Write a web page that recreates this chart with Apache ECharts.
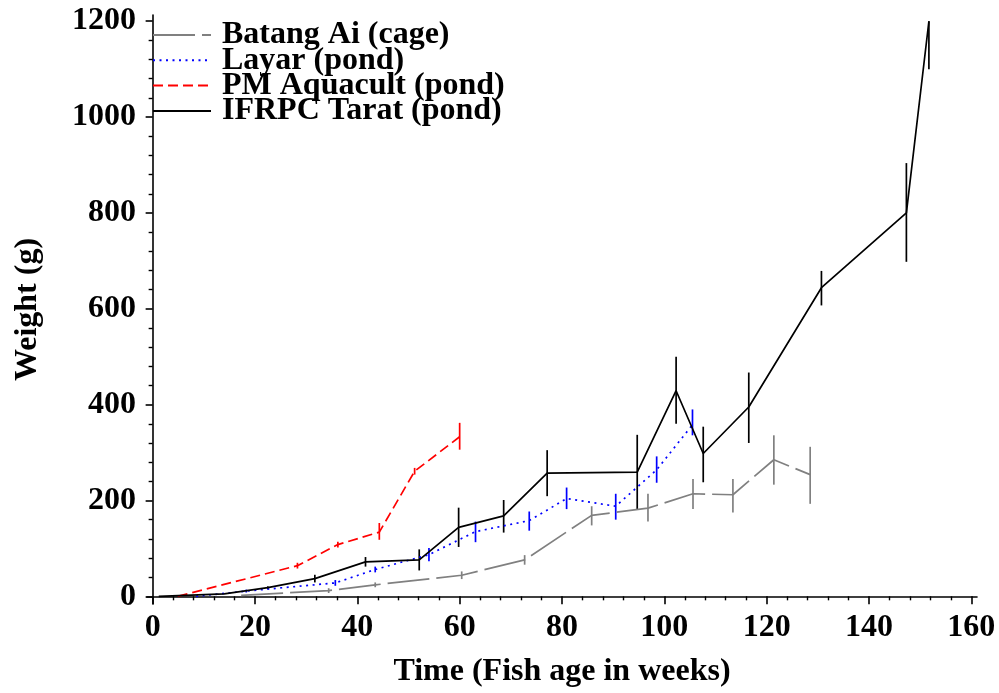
<!DOCTYPE html>
<html>
<head>
<meta charset="utf-8">
<script src="https://cdn.jsdelivr.net/npm/echarts@6/dist/echarts.min.js"></script>
<style>html,body{margin:0;padding:0;background:#fff}#c{width:999px;height:693px}</style>
</head>
<body>
<div id="c"></div>
<script>
// ---- Data ----
const seriesNames = ['Batang Ai (cage)', 'Layar (pond)', 'PM Aquacult (pond)', 'IFRPC Tarat (pond)'];

const batangT  = [17.3, 34.4, 43.5, 60.4, 72.7, 85.8, 96.8, 105.6, 113.4, 121.4, 128.5];
const batangW  = [2, 12, 24, 44, 76, 169, 184, 214, 212, 285, 254];
const batangLo = [2, 7, 19, 36, 66, 148, 156, 182, 175, 233, 193];
const batangHi = [2, 17, 29, 52, 86, 188, 214, 245, 245, 336, 312];

const layarT  = [8.5, 18.3, 35.7, 43.5, 54, 63.1, 73.6, 80.9, 90.5, 98.5, 105.5];
const layarW  = [0, 11, 28, 56, 87, 135, 158, 204, 188, 264, 358];
const layarLo = [0, 8, 22, 50, 73, 113, 137, 182, 160, 237, 336];
const layarHi = [0, 14, 34, 62, 101, 156, 177, 227, 214, 292, 390];

const pmT  = [4.9, 28.3, 36.2, 44.3, 51.2, 60];
const pmW  = [0, 64, 108, 134, 261, 333];
const pmLo = [0, 58, 102, 118, 254, 306];
const pmHi = [0, 70, 114, 153, 268, 362];

const ifrpcT  = [1.2, 14, 22.5, 31.7, 41.6, 52.1, 59.8, 68.6, 77.1, 94.7, 102.3, 107.6, 116.5, 130.7, 147.3, 151.7];
const ifrpcW  = [0, 5, 18, 37, 72, 76, 144, 168, 257, 259, 429, 298, 395, 644, 800, 1200];
const ifrpcLo = [0, 5, 15, 29, 62, 54, 103, 133, 209, 181, 360, 238, 320, 607, 698, 1100];
const ifrpcHi = [0, 5, 21, 45, 82, 98, 185, 201, 305, 337, 500, 354, 467, 679, 904, 1200];

const xTickLabels = [0, 20, 40, 60, 80, 100, 120, 140, 160];
const yTickLabels = [0, 200, 400, 600, 800, 1000, 1200];
const xMinorTicks = [4, 8, 12, 16, 24, 28, 32, 36, 44, 48, 52, 56, 64, 68, 72, 76, 84, 88, 92, 96, 104, 108, 112, 116, 124, 128, 132, 136, 144, 148, 152, 156];
const yMinorTicks = [40, 80, 120, 160, 240, 280, 320, 360, 440, 480, 520, 560, 640, 680, 720, 760, 840, 880, 920, 960, 1040, 1080, 1120, 1160];

// ---- Styling ----
const FONT = 'Liberation Serif';
const colors = ['#808080', '#0000ff', '#ff0000', '#000000'];
const dashes = [[42, 7], [2, 4.5], [10, 5], 'solid'];

const groups = [
  [batangT, batangW, batangLo, batangHi],
  [layarT, layarW, layarLo, layarHi],
  [pmT, pmW, pmLo, pmHi],
  [ifrpcT, ifrpcW, ifrpcLo, ifrpcHi]
];

const series = [];
groups.forEach((g, k) => {
  const [t, w, lo, hi] = g;
  series.push({
    type: 'custom',
    name: 'err' + k,
    xAxisIndex: 0, yAxisIndex: 0,
    data: t.map((v, i) => [v, lo[i], hi[i]]),
    encode: { x: 0, y: [1, 2] },
    silent: true,
    z: 2,
    renderItem: function (params, api) {
      const x = api.value(0);
      const p1 = api.coord([x, api.value(1)]);
      const p2 = api.coord([x, api.value(2)]);
      return {
        type: 'line',
        shape: { x1: p1[0], y1: p1[1], x2: p2[0], y2: p2[1] },
        style: { stroke: colors[k], lineWidth: 1.7 }
      };
    }
  });
});
groups.forEach((g, k) => {
  const [t, w] = g;
  series.push({
    type: 'line',
    name: seriesNames[k],
    xAxisIndex: 0, yAxisIndex: 0,
    data: t.map((v, i) => [v, w[i]]),
    symbol: 'none',
    z: 3,
    lineStyle: { color: colors[k], width: 1.7, type: dashes[k] },
    itemStyle: { color: colors[k] }
  });
});

const labelStyle = { fontFamily: FONT, fontWeight: 'bold', fontSize: 32, color: '#000' };
const plain = v => String(v);

const option = {
  animation: false,
  backgroundColor: '#fff',
  grid: { left: 147, right: 22, top: 15, bottom: 89, containLabel: false },
  legend: {
    orient: 'vertical',
    left: 152, top: 19,
    padding: 0,
    itemGap: -6.7,
    itemWidth: 58, itemHeight: 14,
    data: seriesNames,
    selectedMode: false,
    itemStyle: { color: 'rgba(0,0,0,0)', borderWidth: 0, opacity: 0 },
    textStyle: Object.assign({}, labelStyle, { padding: [0, 0, 0, 6] })
  },
  xAxis: [{
    type: 'value', min: -1.1, max: 161.1,
    name: 'Time (Fish age in weeks)', nameLocation: 'middle', nameGap: 52,
    nameTextStyle: labelStyle,
    axisLine: { show: true, lineStyle: { color: '#000', width: 1.6 } },
    axisTick: { show: true, inside: false, length: 8, customValues: xTickLabels, lineStyle: { color: '#000', width: 1.6 } },
    axisLabel: { show: true, margin: 8, customValues: xTickLabels, formatter: plain, ...labelStyle },
    splitLine: { show: false }
  }, {
    type: 'value', min: -1.1, max: 161.1, position: 'bottom',
    axisLine: { show: false },
    axisTick: { show: true, length: 4, customValues: xMinorTicks, lineStyle: { color: '#000', width: 1.4 } },
    axisLabel: { show: false },
    splitLine: { show: false }
  }],
  yAxis: [{
    type: 'value', min: -16, max: 1213,
    name: 'Weight (g)', nameLocation: 'middle', nameGap: 103, nameRotate: 90,
    nameTextStyle: labelStyle,
    axisLine: { show: true, lineStyle: { color: '#000', width: 1.6 } },
    axisTick: { show: true, inside: false, length: 7, customValues: yTickLabels, lineStyle: { color: '#000', width: 1.6 } },
    axisLabel: { show: true, margin: 11, customValues: yTickLabels, formatter: plain, ...labelStyle },
    splitLine: { show: false }
  }, {
    type: 'value', min: -16, max: 1213, position: 'left',
    axisLine: { show: false },
    axisTick: { show: true, length: 4, customValues: yMinorTicks, lineStyle: { color: '#000', width: 1.4 } },
    axisLabel: { show: false },
    splitLine: { show: false }
  }],
  series: series
};

const chart = echarts.init(document.getElementById('c'), null, { renderer: 'canvas' });
chart.setOption(option);
</script>
</body>
</html>
